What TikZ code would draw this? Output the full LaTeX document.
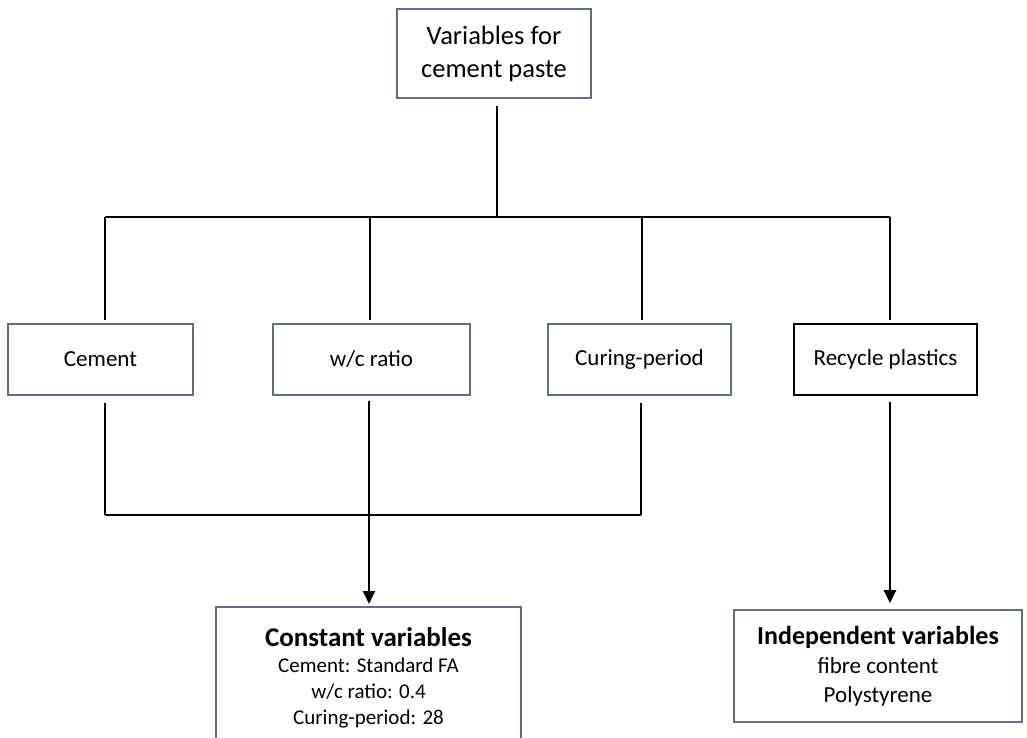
\documentclass[tikz,border=0pt]{standalone}
\usepackage{fontspec}
\setmainfont{Carlito}
\usetikzlibrary{arrows.meta, positioning, calc}
\definecolor{framegray}{RGB}{96,110,138}
\tikzset{
  varbox/.style={draw=framegray, line width=1.6pt, fill=white, align=center, inner sep=0pt}, % every box
  link/.style={line width=2pt, black}, % plain connector
  flow/.style={link, -{Triangle[length=13pt,width=12pt]}}, % connector with head
  midfont/.style={font=\fontsize{23}{28}\selectfont},
}

\begin{document}
\begin{tikzpicture}[x=1pt,y=-1pt]
  \clip (0,0) rectangle (1027,738);
  \fill[white] (0,0) rectangle (1027,738);
  % root
  \node[varbox, minimum width=194pt, minimum height=89pt, font=\fontsize{26.5}{33}\selectfont] (root) at (494,53.5) {Variables for\\cement paste};
  % the four variables
  \node[varbox, midfont, minimum width=185pt, minimum height=71pt] (cement) at (100.5,359.5) {Cement};
  \node[varbox, midfont, minimum width=197pt, minimum height=71pt] (wc) at (371.5,359.5) {w/c ratio};
  \node[varbox, midfont, minimum width=183pt, minimum height=71pt] (curing) at (639.5,359.5) {Curing-period};
  \node[varbox, midfont, draw=black, minimum width=183pt, minimum height=71pt] (plastics) at (885.5,359.5) {Recycle plastics};
  % results
  \node[varbox, anchor=north, minimum width=305pt, minimum height=142pt, font=\fontsize{21}{26}\selectfont] (const) at (368.5,606)
    {{\fontsize{27}{29}\selectfont\bfseries Constant variables}\\Cement: Standard FA\\w/c ratio: 0.4\\Curing-period: 28};
  \node[varbox, minimum width=288pt, minimum height=112pt, font=\fontsize{23}{29}\selectfont] (indep) at (878,666)
    {{\fontsize{26}{29}\selectfont\bfseries Independent variables}\\fibre content\\Polystyrene};
  % upper bus
  \coordinate (top) at (497,217);
  \coordinate (b1) at (105,217);
  \coordinate (b2) at (370,217);
  \coordinate (b3) at (642,217);
  \coordinate (b4) at (890,217);
  \draw[link] (root.south -| top) ++(0,7) -- (top);
  \draw[link] (b1) -- (b4);
  \draw[link] (b1) -- ($(b1 |- cement.north)+(0,-3)$);
  \draw[link] (b2) -- ($(b2 |- wc.north)+(0,-3)$);
  \draw[link] (b3) -- ($(b3 |- curing.north)+(0,-3)$);
  \draw[link] (b4) -- ($(b4 |- plastics.north)+(0,-3)$);
  % lower bus
  \coordinate (l1) at (105,515);
  \coordinate (l2) at (369,515);
  \coordinate (l3) at (641,515);
  \draw[link] (l1) -- (l3);
  \draw[link] ($(l1 |- cement.south)+(0,7)$) -- (l1);
  \draw[link] ($(l2 |- wc.south)+(0,5)$) -- (l2);
  \draw[link] ($(l3 |- curing.south)+(0,7)$) -- (l3);
  \draw[flow] (l2) -- ($(const.north -| l2)+(0,-2)$);
  \draw[flow] ($(plastics.south -| b4)+(0,6)$) -- ($(indep.north -| b4)+(0,-6)$);
\end{tikzpicture}
\end{document}
